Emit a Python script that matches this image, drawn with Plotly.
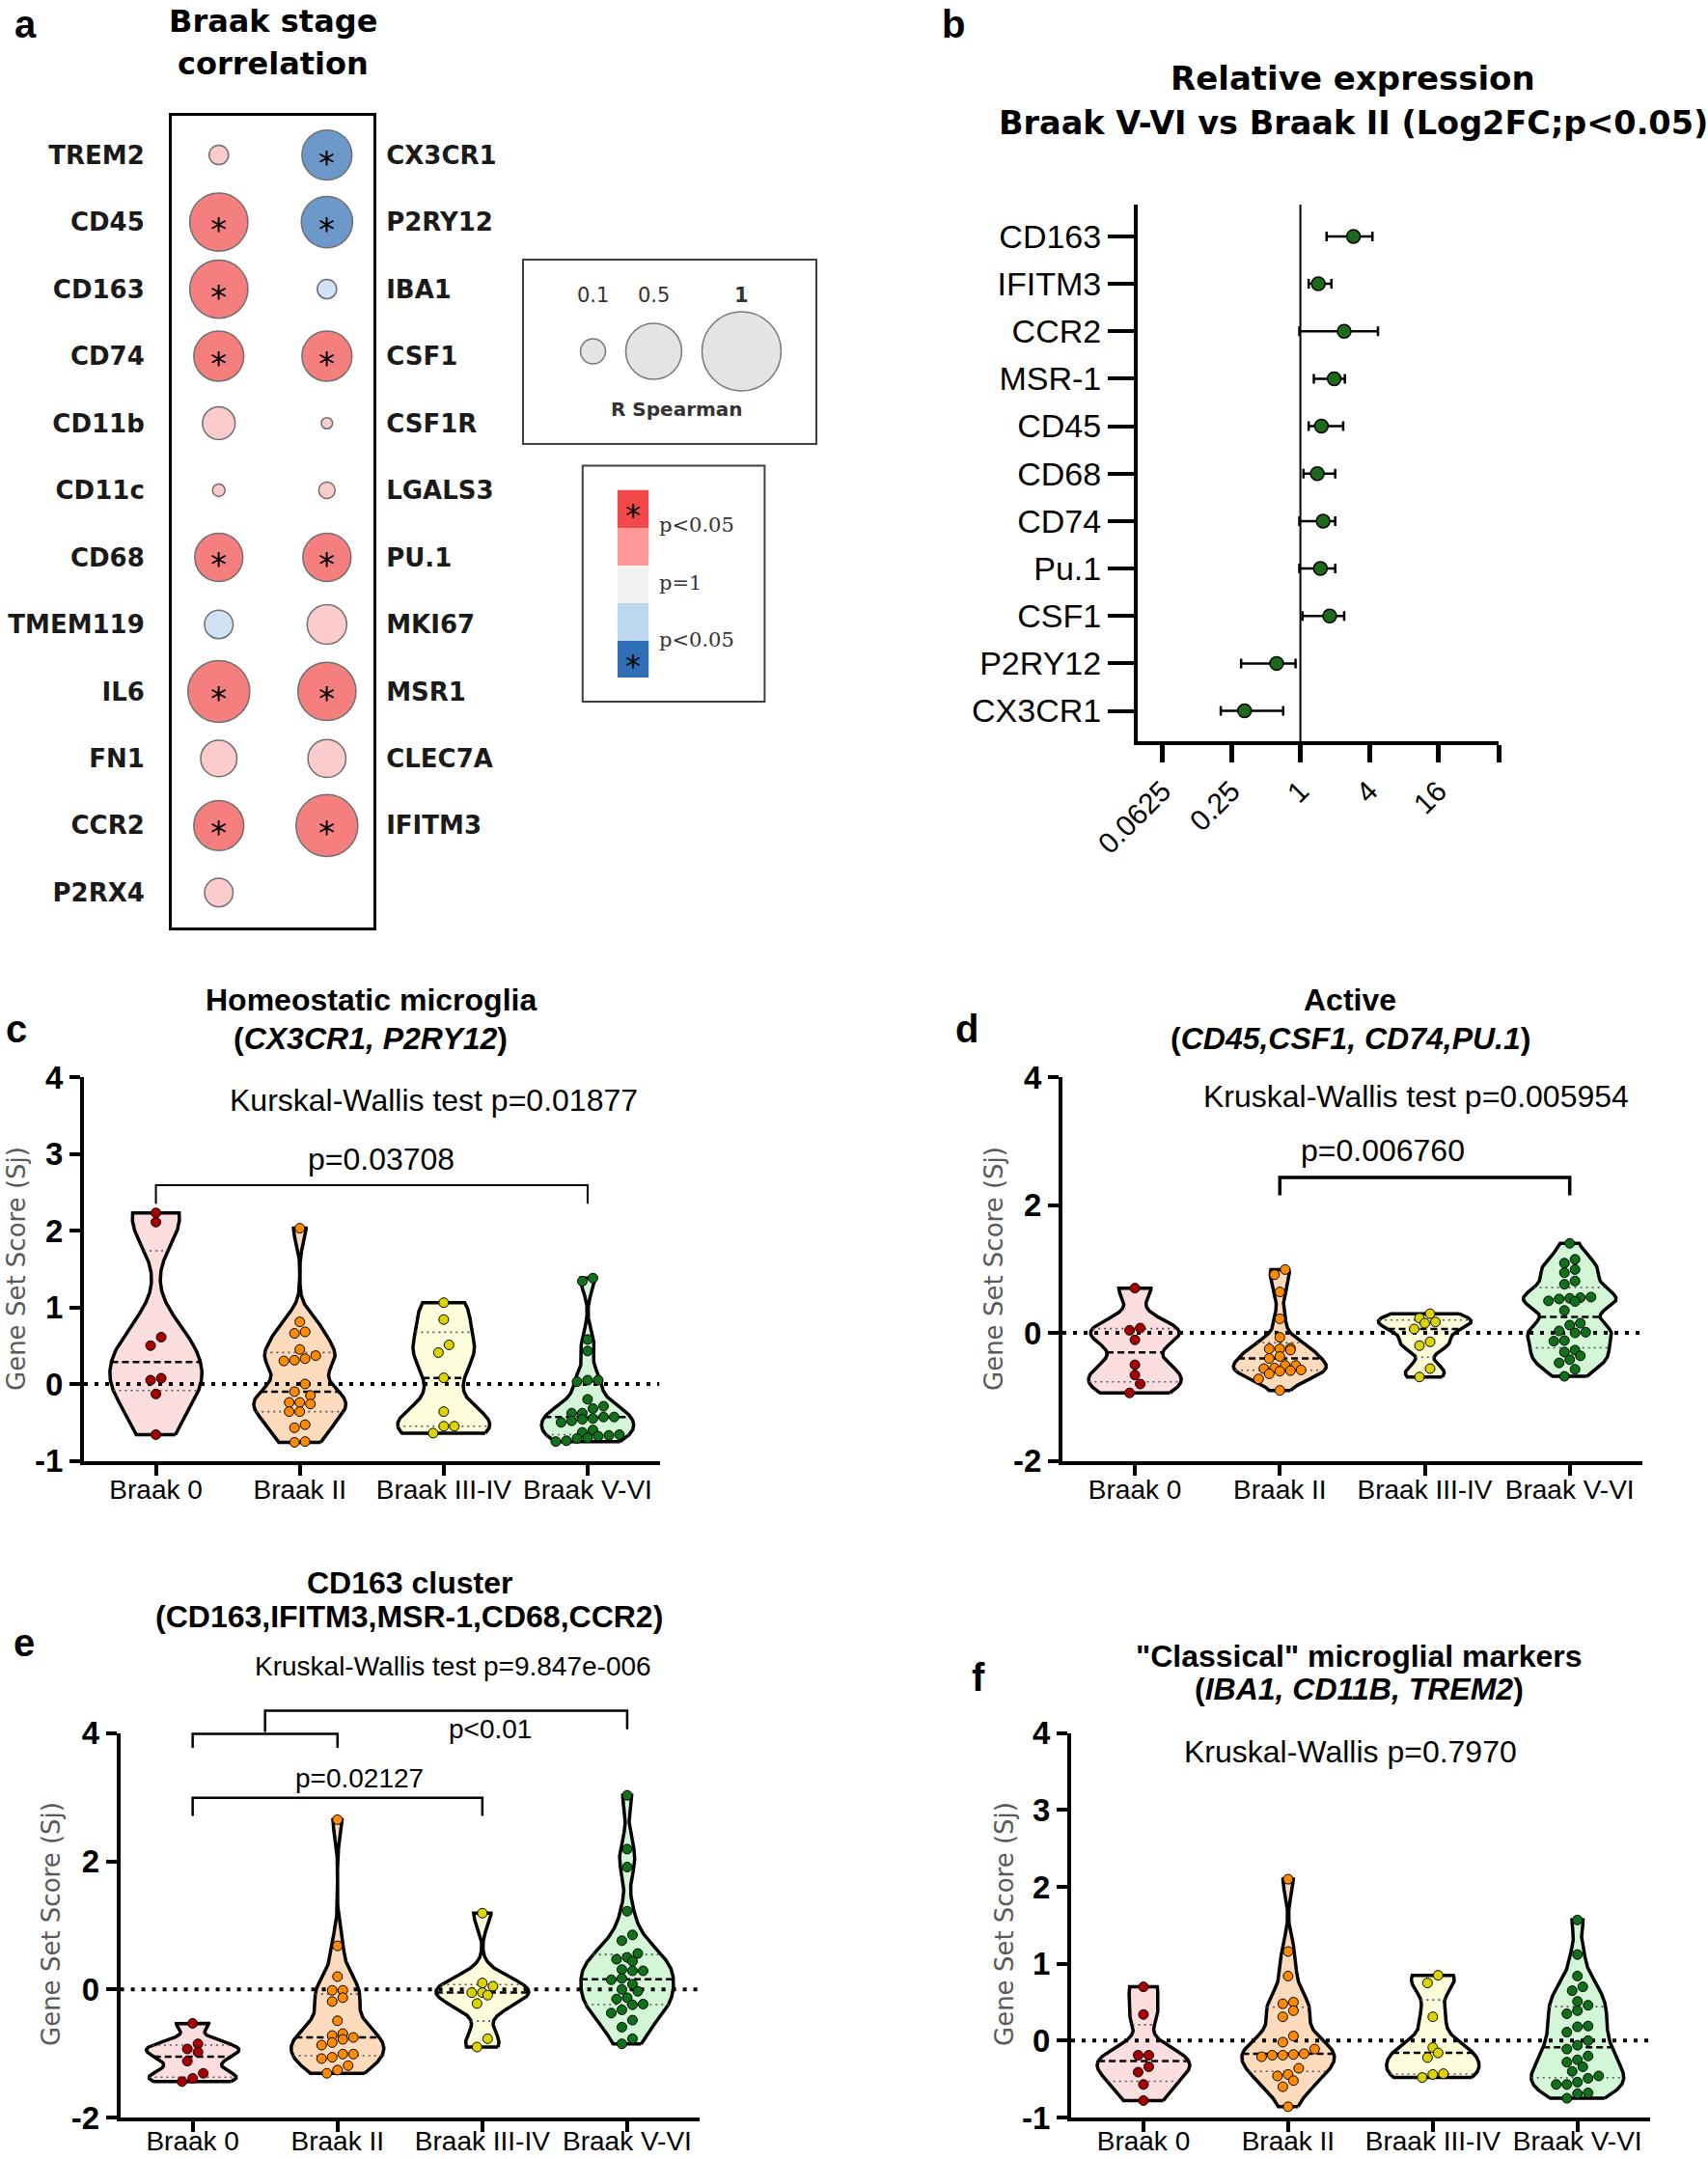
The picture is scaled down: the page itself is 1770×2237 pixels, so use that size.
import numpy as np
import plotly.graph_objects as go

W, H = 1770, 2237
ARIAL = 'Liberation Sans, Arial, sans-serif'
DEJAVU = 'DejaVu Sans, Verdana, sans-serif'
SERIF = 'DejaVu Serif, serif'

# ---------------- a: Braak stage correlation (R Spearman) ----------------
left_genes = ['TREM2', 'CD45', 'CD163', 'CD74', 'CD11b', 'CD11c', 'CD68', 'TMEM119', 'IL6', 'FN1', 'CCR2', 'P2RX4']
left_r = [0.06, 0.54, 0.54, 0.40, 0.17, 0.025, 0.37, -0.13, 0.61, 0.21, 0.40, 0.13]
left_sig = [0, 1, 1, 1, 0, 0, 1, 0, 1, 0, 1, 0]
right_genes = ['CX3CR1', 'P2RY12', 'IBA1', 'CSF1', 'CSF1R', 'LGALS3', 'PU.1', 'MKI67', 'MSR1', 'CLEC7A', 'IFITM3']
right_r = [-0.40, -0.42, -0.06, 0.40, 0.02, 0.043, 0.37, 0.25, 0.54, 0.23, 0.61]
right_sig = [1, 1, 0, 1, 0, 0, 1, 0, 1, 0, 1]
size_key = [0.1, 0.5, 1]
p_key_levels = [0, 1, 2, 3, 4]
p_key_colors = ['#F24A4A', '#FF9898', '#F2F2F2', '#BDD7EE', '#2F6EB5']
p_key_labels = ['p&lt;0.05', 'p=1', 'p&lt;0.05']

# ---------------- b: relative expression, log2 fold change ----------------
b_genes = ['CD163', 'IFITM3', 'CCR2', 'MSR-1', 'CD45', 'CD68', 'CD74', 'Pu.1', 'CSF1', 'P2RY12', 'CX3CR1']
b_log2fc = [1.54, 0.52, 1.27, 0.98, 0.61, 0.49, 0.66, 0.58, 0.85, -0.69, -1.62]
b_low = [0.76, 0.24, -0.03, 0.39, 0.24, 0.09, -0.03, -0.03, 0.06, -1.72, -2.31]
b_high = [2.09, 0.90, 2.25, 1.29, 1.24, 1.01, 1.01, 1.01, 1.27, -0.14, -0.50]
b_ticks = [-4, -2, 0, 2, 4]
b_xmax = 5.75

# ---------------- c-f: gene set scores per Braak stage ----------------
stages = ['Braak 0', 'Braak II', 'Braak III-IV', 'Braak V-VI']
stage_fill = ['#FCDEDF', '#FDDBBC', '#FFFEDC', '#D3F7D6']
stage_dot = ['#A80000', '#FF8A00', '#DCD400', '#11701A']

c_b0 = [2.23, 2.11, 0.61, 0.50, 0.075, 0.05, -0.13, -0.66]
c_b2 = [2.03, 0.81, 0.68, 0.66, 0.45, 0.37, 0.33, 0.31, 0.30, 0.0, -0.10, -0.15, -0.24, -0.24,
        -0.26, -0.36, -0.36, -0.53, -0.57, -0.75, -0.76]
c_b34 = [1.06, 0.84, 0.51, 0.41, 0.08, -0.36, -0.55, -0.55, -0.64]
c_b56 = [1.38, 1.34, 0.58, 0.43, 0.05, 0.05, 0.03, -0.20, -0.29, -0.32, -0.38, -0.38, -0.43, -0.43,
         -0.45, -0.46, -0.48, -0.50, -0.60, -0.63, -0.66, -0.67, -0.68, -0.70, -0.71, -0.74, -0.75]

d_b0 = [0.70, 0.075, 0.04, -0.11, -0.50, -0.66, -0.80, -0.94]
d_b2 = [0.99, 0.91, 0.64, 0.22, -0.07, -0.24, -0.25, -0.25, -0.27, -0.37, -0.40, -0.51, -0.51,
        -0.55, -0.56, -0.58, -0.59, -0.60, -0.64, -0.72, -0.90]
d_b34 = [0.30, 0.23, 0.17, 0.15, 0.06, -0.14, -0.20, -0.56, -0.69]
d_b56 = [1.40, 1.15, 1.09, 0.99, 0.94, 0.81, 0.76, 0.56, 0.55, 0.54, 0.53, 0.50, 0.49, 0.35, 0.15,
         0.12, 0.03, 0.01, 0.0, -0.12, -0.13, -0.27, -0.30, -0.36, -0.42, -0.47, -0.57, -0.68]

e_b0 = [-0.53, -0.85, -0.93, -0.98, -1.12, -1.31, -1.39, -1.44]
e_b2 = [2.65, 0.68, 0.20, -0.015, -0.015, -0.13, -0.19, -0.49, -0.69, -0.72, -0.75, -0.78, -0.83,
        -0.87, -1.01, -1.01, -1.06, -1.08, -1.19, -1.26, -1.31]
e_b34 = [1.19, 0.10, 0.05, -0.05, -0.05, -0.09, -0.22, -0.77, -0.90]
e_b56 = [3.03, 2.19, 1.91, 1.22, 0.85, 0.76, 0.56, 0.50, 0.47, 0.44, 0.31, 0.29, 0.29, 0.17, 0.15,
         0.08, 0.0, -0.03, -0.13, -0.15, -0.23, -0.24, -0.32, -0.37, -0.48, -0.59, -0.77, -0.85]

f_b0 = [0.70, 0.34, -0.19, -0.19, -0.34, -0.41, -0.57, -0.78]
f_b2 = [2.10, 1.16, 0.84, 0.50, 0.48, 0.39, 0.31, 0.06, -0.02, -0.11, -0.17, -0.18, -0.19, -0.19,
        -0.21, -0.36, -0.44, -0.46, -0.52, -0.60, -0.86]
f_b34 = [0.85, 0.75, 0.31, -0.09, -0.16, -0.22, -0.43, -0.44, -0.48]
f_b56 = [1.57, 1.12, 0.84, 0.70, 0.65, 0.51, 0.46, 0.39, 0.35, 0.19, 0.18, 0.11, 0.0, -0.06, -0.11,
         -0.20, -0.25, -0.28, -0.34, -0.40, -0.46, -0.49, -0.54, -0.57, -0.57, -0.68, -0.69, -0.75]

# (x0, x1, top, left leg end, right leg end)
c_brackets = [(0, 3, 2.59, 2.35, 2.35)]
d_brackets = [(1, 3, 2.43, 2.15, 2.15)]
e_brackets = [(0, 1, 3.99, 3.77, 3.77), (0.5, 3, 4.35, 4.02, 4.06), (0, 2, 2.99, 2.71, 2.71)]


def px_dom_x(a, b):
    return [a / W, b / W]


def px_dom_y(top, bottom):
    return [1 - bottom / H, 1 - top / H]


def note(px, py, text, size, family=ARIAL, color='black', xanchor='center', angle=0):
    return dict(xref='paper', yref='paper', x=px / W, y=1 - py / H, text=text, showarrow=False,
                xanchor=xanchor, yanchor='middle', textangle=angle,
                font=dict(family=family, size=size, color=color))


def corr_color(r, s):
    if r >= 0:
        return p_key_colors[0] if s else '#FBB6B6'
    return p_key_colors[4] if s else p_key_colors[3]


fig = go.Figure()
annotations = []
shapes = []
layout = dict(template='none', width=W, height=H,
              margin=dict(l=0, r=0, t=0, b=0, pad=0, autoexpand=False),
              paper_bgcolor='white', plot_bgcolor='white', showlegend=False,
              font=dict(family=ARIAL, color='black'))

base_axis = dict(showgrid=False, zeroline=False, fixedrange=True, automargin=False)

# ---------------- panel a ----------------
SIZEREF = 2 / 82 ** 2
for col, (genes, rs, sig, ax_y) in enumerate([(left_genes, left_r, left_sig, 'y'),
                                               (right_genes, right_r, right_sig, 'y2')]):
    fig.add_trace(go.Scatter(
        x=[col] * len(genes), y=list(range(len(genes))), mode='markers', xaxis='x', yaxis=ax_y,
        marker=dict(size=[abs(r) for r in rs], sizemode='area', sizeref=SIZEREF,
                    color=[corr_color(r, s) for r, s in zip(rs, sig)],
                    line=dict(color='#333333', width=1.5)),
        hoverinfo='skip'))
    for row, s in enumerate(sig):
        if s:
            annotations.append(dict(xref='x', yref='y', x=col, y=row, text='*', showarrow=False,
                                    yshift=-8, font=dict(family=DEJAVU, size=34, color='black')))

a_rng = [11.52, -0.584]
layout['xaxis'] = dict(base_axis, domain=px_dom_x(178, 387), range=[-0.435, 1.43], anchor='y',
                       showline=True, mirror=True, linewidth=3, linecolor='black',
                       showticklabels=False, ticks='')
tick_a = dict(family=DEJAVU, size=26, color='#1a1a1a', weight='bold')
layout['yaxis'] = dict(base_axis, domain=px_dom_y(120, 961), range=a_rng, anchor='x',
                       showline=True, mirror=True, linewidth=3, linecolor='black',
                       tickvals=list(range(len(left_genes))), ticktext=left_genes,
                       ticks='outside', ticklen=20, tickcolor='rgba(0,0,0,0)', tickfont=tick_a)
layout['yaxis2'] = dict(base_axis, overlaying='y', side='right', anchor='x', range=a_rng,
                        tickvals=list(range(len(right_genes))), ticktext=right_genes,
                        ticks='outside', ticklen=7, tickcolor='rgba(0,0,0,0)', tickfont=tick_a)

# size key
key_x0, key_y = 614.5, 364
radii = [41 * np.sqrt(v) for v in size_key]
key_cx = [key_x0]
for i in range(1, len(radii)):
    key_cx.append(key_cx[-1] + radii[i - 1] + 21 + radii[i])
fig.add_trace(go.Scatter(
    x=key_cx, y=[key_y] * len(size_key), mode='markers', xaxis='x3', yaxis='y3',
    marker=dict(size=size_key, sizemode='area', sizeref=SIZEREF, color='#D9D9D9',
                line=dict(color='#404040', width=1.5)), hoverinfo='skip'))
layout['xaxis3'] = dict(base_axis, domain=px_dom_x(543, 845), range=[543, 845], anchor='y3',
                        showline=True, mirror=True, linewidth=2, linecolor='#404040',
                        showticklabels=False, ticks='')
layout['yaxis3'] = dict(base_axis, domain=px_dom_y(270, 459), range=[459, 270], anchor='x3',
                        showline=True, mirror=True, linewidth=2, linecolor='#404040',
                        showticklabels=False, ticks='')
for cx, v in zip(key_cx, size_key):
    label = '<b>1</b>' if v == 1 else f'{v:g}'
    annotations.append(dict(xref='x3', yref='y3', x=cx, y=306, text=label, showarrow=False,
                            font=dict(family=DEJAVU, size=21, color='#333333')))
annotations.append(dict(xref='x3', yref='y3', x=701.5, y=424, text='<b>R Spearman</b>',
                        showarrow=False, font=dict(family=DEJAVU, size=20, color='#333333')))

# p-value colour key
fig.add_trace(go.Heatmap(
    z=[[lv] for lv in p_key_levels], x=[0], y=list(range(len(p_key_levels))),
    colorscale=[[i / (len(p_key_colors) - 1), c] for i, c in enumerate(p_key_colors)],
    zmin=0, zmax=len(p_key_colors) - 1, showscale=False, xaxis='x4', yaxis='y4', hoverinfo='skip'))
layout['xaxis4'] = dict(base_axis, domain=px_dom_x(639.7, 672.3), range=[-0.5, 0.5], anchor='y4',
                        showticklabels=False, ticks='')
layout['yaxis4'] = dict(base_axis, domain=px_dom_y(507.5, 702), range=[4.5, -0.5], anchor='x4',
                        showticklabels=False, ticks='')
for row in (0, len(p_key_levels) - 1):
    annotations.append(dict(xref='x4', yref='y4', x=0, y=row, text='*', showarrow=False, yshift=-7,
                            font=dict(family=DEJAVU, size=32, color='black')))
shapes.append(dict(type='rect', xref='paper', yref='paper', x0=603.8 / W, x1=792.4 / W,
                   y0=1 - 727 / H, y1=1 - 482.5 / H, line=dict(color='#404040', width=2)))
for (py, txt) in zip([544, 604, 663], p_key_labels):
    annotations.append(note(680.7, py, txt, 21, family=SERIF, color='#333333', xanchor='left'))

annotations += [
    note(26, 25, '<b>a</b>', 40),
    note(283, 22, '<b>Braak stage</b>', 32, family=DEJAVU),
    note(283, 66, '<b>correlation</b>', 32, family=DEJAVU),
]

# ---------------- panel b ----------------
mid = np.array(b_log2fc)
fig.add_trace(go.Scatter(
    x=b_log2fc, y=b_genes, mode='markers', xaxis='x5', yaxis='y5',
    error_x=dict(type='data', symmetric=False, array=list(np.array(b_high) - mid),
                 arrayminus=list(mid - np.array(b_low)), color='black', thickness=2.5, width=5),
    marker=dict(size=14, color='#1B6B1B', line=dict(color='black', width=1.5)), hoverinfo='skip'))
layout['xaxis5'] = dict(base_axis, domain=px_dom_x(1179, 1553), range=[-4.72, b_xmax], anchor='y5',
                        showline=True, linewidth=4, linecolor='black', ticks='outside', ticklen=18,
                        tickwidth=5, tickcolor='black', tickangle=-45,
                        tickvals=b_ticks + [b_xmax], ticktext=[f'{2.0 ** t:g}' for t in b_ticks] + [''],
                        tickfont=dict(family=ARIAL, size=30))
layout['yaxis5'] = dict(base_axis, domain=px_dom_y(212, 768), type='category', categoryorder='array',
                        categoryarray=b_genes, range=[10.64, -0.67], anchor='x5',
                        showline=True, linewidth=4, linecolor='black', ticks='outside', ticklen=27,
                        tickwidth=4, tickcolor='black', tickfont=dict(family=ARIAL, size=34))
shapes.append(dict(type='line', xref='x5', yref='y5 domain', x0=0, x1=0, y0=0, y1=1,
                   line=dict(color='black', width=2), layer='below'))
annotations += [
    note(988, 25, '<b>b</b>', 40),
    note(1402, 81, '<b>Relative expression</b>', 34, family=DEJAVU),
    note(1402, 128, '<b>Braak V-VI vs Braak II (Log2FC;p&lt;0.05)</b>', 33.5, family=DEJAVU),
]

# ---------------- panels c-f ----------------
SMOOTH = 0.5
HALF = 0.32
DOT = 10
XR = [-0.5, 3.5]

panels = [
    dict(k=6, groups=[c_b0, c_b2, c_b34, c_b56], box=(87, 683.5, 1116, 1513.5), yr=[-1, 4],
         yt=[-1, 0, 1, 2, 3, 4], brackets=c_brackets, bw=2, standoff=-9),
    dict(k=7, groups=[d_b0, d_b2, d_b34, d_b56], box=(1101, 1701.8, 1116, 1513.5), yr=[-2, 4],
         yt=[-2, 0, 2, 4], brackets=d_brackets, bw=3.5, standoff=-9),
    dict(k=8, groups=[e_b0, e_b2, e_b34, e_b56], box=(124.6, 725, 1795.8, 2194), yr=[-2, 4],
         yt=[-2, 0, 2, 4], brackets=e_brackets, bw=2.5, standoff=-15),
    dict(k=9, groups=[f_b0, f_b2, f_b34, f_b56], box=(1110, 1709.7, 1795.8, 2194), yr=[-1, 4],
         yt=[-1, 0, 1, 2, 3, 4], brackets=[], bw=2, standoff=-15),
]


def swarm(vals, dy, dx):
    v = np.asarray(vals, float)
    order = np.argsort(v)
    s = v[order]
    offs = np.zeros(len(v))
    i = 0
    while i < len(s):
        j = i
        while j + 1 < len(s) and s[j + 1] - s[i] < dy:
            j += 1
        n = j - i + 1
        for m in range(n):
            offs[order[i + m]] = (m - (n - 1) / 2) * dx
        i = j + 1
    return offs


for p in panels:
    k = p['k']
    ax, ay = f'x{k}', f'y{k}'
    x0, x1, top, bottom = p['box']
    yr = p['yr']
    ppx = (x1 - x0) / (XR[1] - XR[0])
    ppy = (bottom - top) / (yr[1] - yr[0])
    swarm_pts = []
    for i, vals in enumerate(p['groups']):
        v = np.asarray(vals, float)
        bw = SMOOTH * 1.06 * v.std(ddof=1) * len(v) ** -0.2

        def dens(y, v=v, bw=bw):
            y = np.atleast_1d(y)
            return np.exp(-0.5 * ((y[:, None] - v[None, :]) / bw) ** 2).sum(axis=1)

        grid = np.linspace(v.min(), v.max(), 240)
        dg = dens(grid)
        dmax = dg.max()
        hw = dg / dmax * HALF
        xs = np.r_[i + hw, (i - hw)[::-1], i + hw[0]]
        ys = np.r_[grid, grid[::-1], grid[0]]
        fig.add_trace(go.Scatter(x=xs, y=ys, mode='lines', fill='toself', fillcolor=stage_fill[i],
                                 line=dict(color='black', width=3.5), xaxis=ax, yaxis=ay,
                                 hoverinfo='skip'))
        q1, med, q3 = np.percentile(v, [25, 50, 75], method='weibull')
        for q, style in [(q1, dict(color='#555555', width=1.6, dash='2px,4px')),
                         (q3, dict(color='#555555', width=1.6, dash='2px,4px')),
                         (med, dict(color='black', width=2.5, dash='7px,4px'))]:
            h = dens(q)[0] / dmax * HALF
            fig.add_trace(go.Scatter(x=[i - h, i + h], y=[q, q], mode='lines', line=style,
                                     xaxis=ax, yaxis=ay, hoverinfo='skip'))
        offs = swarm(v, DOT * 0.95 / ppy, (DOT + 1) / ppx)
        swarm_pts.append((i + offs, v))
    fig.add_trace(go.Scatter(x=XR, y=[0, 0], mode='lines', xaxis=ax, yaxis=ay, hoverinfo='skip',
                             line=dict(color='black', width=4, dash='4px,7px')))
    for i, (xs, vs) in enumerate(swarm_pts):
        fig.add_trace(go.Scatter(x=xs, y=vs, mode='markers', xaxis=ax, yaxis=ay, hoverinfo='skip',
                                 marker=dict(size=DOT, color=stage_dot[i],
                                             line=dict(color='black', width=1))))
    layout[f'xaxis{k}'] = dict(base_axis, domain=px_dom_x(x0, x1), range=XR, anchor=ay,
                               showline=True, linewidth=4, linecolor='black', ticks='outside',
                               ticklen=11, tickwidth=3.5, tickcolor='black',
                               ticklabelstandoff=p['standoff'],
                               tickvals=list(range(len(stages))), ticktext=stages,
                               tickfont=dict(family=ARIAL, size=28))
    layout[f'yaxis{k}'] = dict(base_axis, domain=px_dom_y(top, bottom), range=yr, anchor=ax,
                               showline=True, linewidth=4, linecolor='black', ticks='outside',
                               ticklen=11, tickwidth=3.5, tickcolor='black',
                               tickvals=p['yt'], ticktext=[str(t) for t in p['yt']],
                               tickfont=dict(family=ARIAL, size=33, weight='bold'))

    def fx(v):
        return (v - XR[0]) / (XR[1] - XR[0])

    def fy(v, yr=yr):
        return (v - yr[0]) / (yr[1] - yr[0])

    for (bx0, bx1, btop, b0, b1) in p['brackets']:
        path = (f'M {fx(bx0)},{fy(b0)} L {fx(bx0)},{fy(btop)} '
                f'L {fx(bx1)},{fy(btop)} L {fx(bx1)},{fy(b1)}')
        shapes.append(dict(type='path', xref=f'{ax} domain', yref=f'{ay} domain', path=path,
                           line=dict(color='black', width=p['bw'])))

ytitle = 'Gene Set Score (Sj)'
annotations += [
    note(17, 1066, '<b>c</b>', 40),
    note(384, 1036, '<b>Homeostatic microglia</b>', 32),
    note(384, 1076, '<b>(<i>CX3CR1, P2RY12</i>)</b>', 32),
    note(449, 1140, 'Kurskal-Wallis test p=0.01877', 32),
    note(394.5, 1201, 'p=0.03708', 32),
    note(17, 1315, ytitle, 26, family=DEJAVU, color='#595959', angle=-90),

    note(1002, 1066, '<b>d</b>', 40),
    note(1399, 1036, '<b>Active</b>', 32),
    note(1399, 1076, '<b>(<i>CD45,CSF1, CD74,PU.1</i>)</b>', 32),
    note(1467, 1136, 'Kruskal-Wallis test p=0.005954', 32),
    note(1433, 1192, 'p=0.006760', 32),
    note(1030, 1315, ytitle, 26, family=DEJAVU, color='#595959', angle=-90),

    note(25, 1702, '<b>e</b>', 40),
    note(424, 1640, '<b>CD163 cluster</b>', 32),
    note(424, 1675, '<b>(CD163,IFITM3,MSR-1,CD68,CCR2)</b>', 32),
    note(469, 1726, 'Kruskal-Wallis test p=9.847e-006', 28),
    note(508, 1791, 'p&lt;0.01', 28),
    note(372, 1842, 'p=0.02127', 28),
    note(53, 1994, ytitle, 26, family=DEJAVU, color='#595959', angle=-90),

    note(1014, 1738, '<b>f</b>', 40),
    note(1408, 1716, '<b>"Classical" microglial markers</b>', 32),
    note(1408, 1750, '<b>(<i>IBA1, CD11B, TREM2</i>)</b>', 32),
    note(1399, 1815, 'Kruskal-Wallis p=0.7970', 32),
    note(1041, 1994, ytitle, 26, family=DEJAVU, color='#595959', angle=-90),
]

layout['annotations'] = annotations
layout['shapes'] = shapes
fig.update_layout(**layout)
fig.write_html('out.html', config={'displayModeBar': False},
               post_script="document.body.style.margin='0px';")
